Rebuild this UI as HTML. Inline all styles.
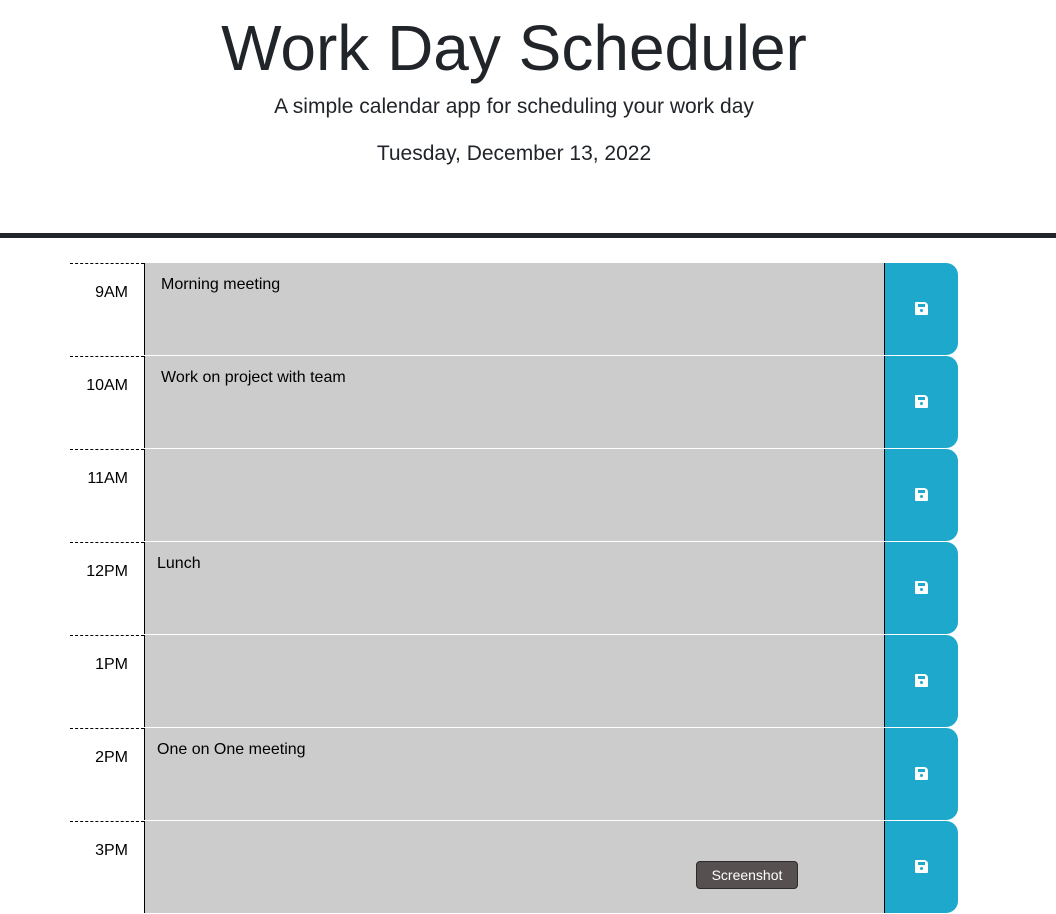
<!DOCTYPE html>
<html><head><meta charset="utf-8"><style>
body{margin:0;width:1056px;height:903px;overflow:hidden;background:#fff;font-family:"Liberation Sans",sans-serif;color:#212529;position:relative}
.abs{position:absolute}
h1{position:absolute;top:12px;left:0;width:1028px;text-align:center;margin:0;font-weight:300;font-size:64px;line-height:72px}
.sub{left:0;width:1028px;text-align:center;font-size:21px}
.bar{top:233px;left:0;width:1056px;height:5px;background:#212529}
.hour{left:70px;width:74px;height:92px;border-top:1px dashed #000;font-size:16px;color:#000}
.hour span{position:absolute;right:16px;top:20px}
.ta{left:144px;width:739px;height:92px;background:#ccc;border-left:1px solid #000;border-right:1px solid #000;font-size:16px;color:#000}
.ta span{position:absolute;left:16px;top:13px}
.btn{left:885px;width:73px;height:92px;background:#1ea8cb;border-radius:0 12px 12px 0}
.ico{position:absolute;left:30px;top:39px;width:13px;height:13px;background:#fff;border-radius:1px 4px 1px 1px}
.ico:before{content:"";position:absolute;left:3px;top:2px;width:7px;height:3px;background:#1ea8cb}
.ico:after{content:"";position:absolute;left:5px;top:7px;width:3px;height:3px;border-radius:50%;background:#1ea8cb}
</style></head><body>
<h1>Work Day Scheduler</h1>
<div class="abs sub" style="top:95px">A simple calendar app for scheduling your work day</div>
<div class="abs sub" style="top:142px">Tuesday, December 13, 2022</div>
<div class="abs bar"></div>
<div id="rows"></div>
<div class="abs" style="left:696px;top:861px;width:100px;height:26px;background:#565150;border:1px solid #2e2a29;border-radius:4px;color:#fff;font-size:14px;text-align:center;line-height:26px">Screenshot</div>
<script>
const hours=["9AM","10AM","11AM","12PM","1PM","2PM","3PM"];
const notes=["Morning meeting","Work on project with team","","Lunch","","One on One meeting",""];
const c=document.getElementById('rows');
hours.forEach((h,i)=>{
  const y=263+i*93;
  const hr=document.createElement('div');hr.className='abs hour';hr.style.top=y+'px';
  
  
  hr.innerHTML='<span>'+h+'</span>';c.appendChild(hr);
  const t=document.createElement('div');t.className='abs ta';t.style.top=y+'px';
  
  
  const sp=document.createElement('span');sp.textContent=notes[i];if(i>=3)sp.style.left='12px';t.appendChild(sp);c.appendChild(t);
  const b=document.createElement('div');b.className='abs btn';b.style.top=y+'px';
  
  
  b.innerHTML='<div class="ico"></div>';c.appendChild(b);
});
</script>
</body></html>
